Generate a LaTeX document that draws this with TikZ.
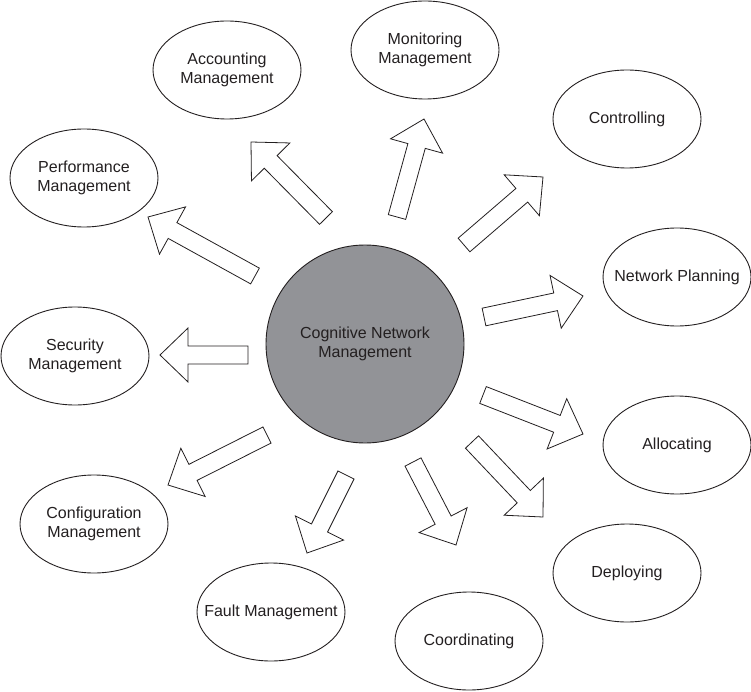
\documentclass[tikz,border=0pt]{standalone}
\usepackage{fontspec}
\setmainfont{Liberation Sans}
\usetikzlibrary{shapes.geometric,calc}
\definecolor{hubgray}{RGB}{146,147,151}
\definecolor{inkline}{RGB}{35,31,32}

\newcommand{\fatarrow}[2]{%
  \coordinate (#2-b) at ($(#2)!28pt!(#1)$);
  \draw[fat arrow] ($(#1)!9pt!90:(#2)$) -- ($(#2-b)!9pt!90:(#2)$)
    -- ($(#2-b)!27pt!90:(#2)$) -- (#2) -- ($(#2-b)!27pt!-90:(#2)$)
    -- ($(#2-b)!9pt!-90:(#2)$) -- ($(#1)!9pt!-90:(#2)$) -- cycle;}

\begin{document}
\begin{tikzpicture}
         [x=1pt, y=-1pt,
          task/.style={ellipse,draw=inkline,line width=0.9pt,minimum width=148pt,minimum height=98pt,
                       inner xsep=-18pt,inner ysep=0pt,align=center,text=inkline,font=\fontsize{16}{19}\selectfont},
          hub/.style={circle,draw=inkline,line width=0.9pt,fill=hubgray,minimum size=198pt,
                      inner sep=0pt,align=center,text=inkline,font=\fontsize{16}{19}\selectfont},
          fat arrow/.style={draw=inkline,fill=white,line width=0.8pt,line join=miter}]
         \useasboundingbox (0,0) rectangle (751,692);

         \node[hub] (cnm) at (365,344) {Cognitive Network\\Management};

         \node[task] (acc) at (227,70) {Accounting\\Management};
         \node[task] (mon) at (425,50) {Monitoring\\Management};
         \node[task] (ctl) at (627,119) {Controlling};
         \node[task] (perf) at (84,178) {Performance\\Management};
         \node[task] (plan) at (677,277) {Network Planning};
         \node[task] (sec) at (75,356) {Security\\Management};
         \node[task] (alloc) at (677,445) {Allocating};
         \node[task] (conf) at (94,524) {Configuration\\Management};
         \node[task] (depl) at (627,573) {Deploying};
         \node[task] (fault) at (271,612) {Fault Management};
         \node[task] (coord) at (469,641) {Coordinating};

         % tails and tips of the block arrows
         \coordinate (sec-t) at (248,355);   \coordinate (sec-h) at (160,355);
         \coordinate (perf-t) at (255,276);  \coordinate (perf-h) at (148,217);
         \coordinate (acc-t) at (326,218);   \coordinate (acc-h) at (251,142);
         \coordinate (mon-t) at (397,217);   \coordinate (mon-h) at (424,119);
         \coordinate (ctl-t) at (464,245);   \coordinate (ctl-h) at (543,177);
         \coordinate (plan-t) at (484,317);  \coordinate (plan-h) at (583,296);
         \coordinate (alloc-t) at (483,395); \coordinate (alloc-h) at (583,434);
         \coordinate (depl-t) at (472,442);  \coordinate (depl-h) at (543,517);
         \coordinate (coord-t) at (413,462); \coordinate (coord-h) at (456,545);
         \coordinate (fault-t) at (346,475); \coordinate (fault-h) at (307,553);
         \coordinate (conf-t) at (267,435);  \coordinate (conf-h) at (168,485);

         \fatarrow{sec-t}{sec-h}
         \fatarrow{perf-t}{perf-h}
         \fatarrow{acc-t}{acc-h}
         \fatarrow{mon-t}{mon-h}
         \fatarrow{ctl-t}{ctl-h}
         \fatarrow{plan-t}{plan-h}
         \fatarrow{alloc-t}{alloc-h}
         \fatarrow{depl-t}{depl-h}
         \fatarrow{coord-t}{coord-h}
         \fatarrow{fault-t}{fault-h}
         \fatarrow{conf-t}{conf-h}
      \end{tikzpicture}
\end{document}
